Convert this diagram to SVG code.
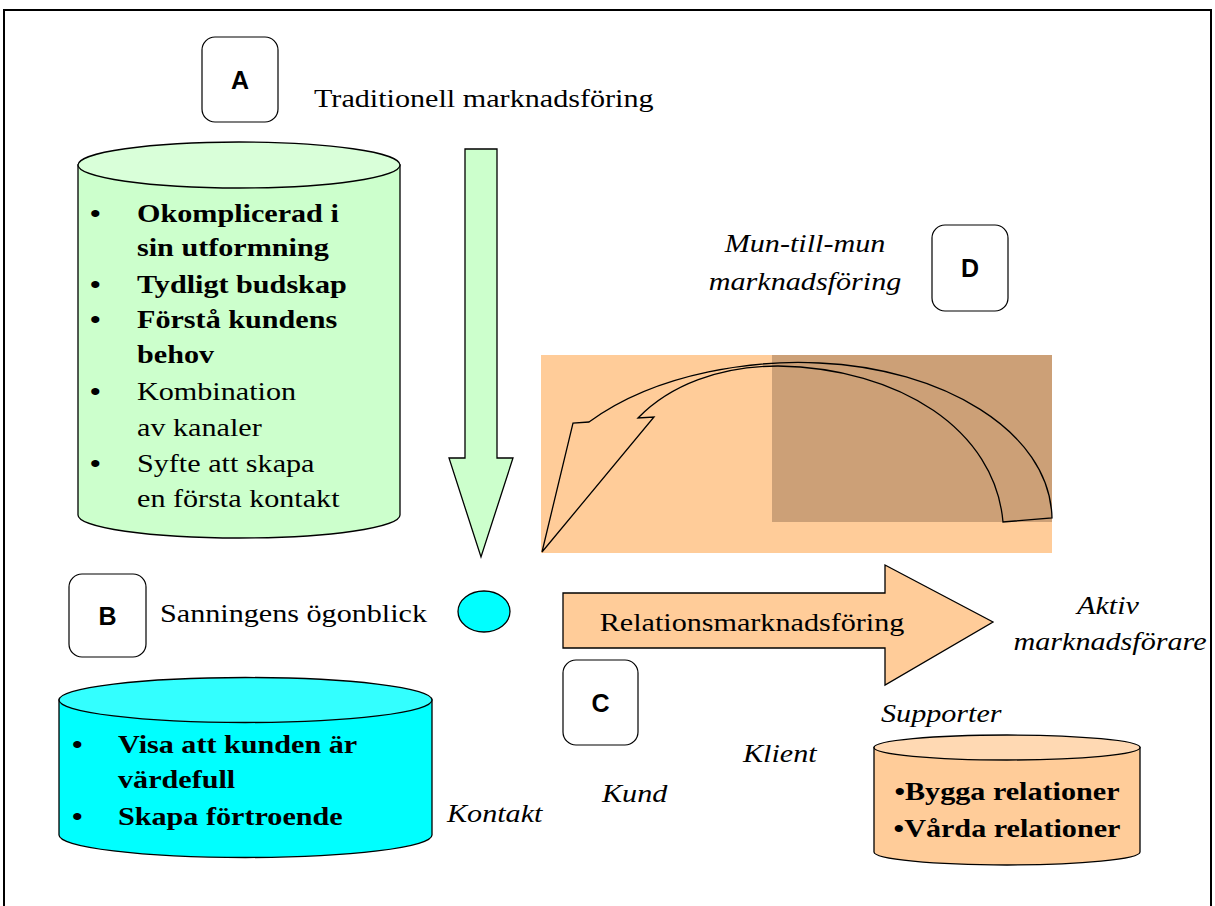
<svg xmlns="http://www.w3.org/2000/svg" width="1215" height="906" viewBox="0 0 1215 906">
<style>
.t{font-family:"Liberation Serif","Times New Roman",serif;font-size:26px;fill:#000}
.b{font-weight:bold}
.i{font-style:italic}
.m{text-anchor:middle}
.lab{font-family:"Liberation Sans",Arial,sans-serif;font-size:25px;font-weight:bold;fill:#000;text-anchor:middle}
.box{fill:#fff;stroke:#000;stroke-width:1.2}
.ln{stroke:#000;stroke-width:1.3}
</style>
<rect x="0" y="0" width="1215" height="906" fill="#fff"/>
<rect x="4" y="10" width="1207" height="910" fill="none" stroke="#000" stroke-width="2"/>

<g id="box-A"><rect class="box" x="202" y="37" width="76" height="85" rx="13"/><text class="lab" x="240" y="89">A</text></g>
<text class="t" transform="translate(314,107) scale(1.16,1)">Traditionell marknadsföring</text>

<g id="cyl-green">
<path class="ln" d="M78,165 L78,515 A161,23 0 0 0 400,515 L400,165 Z" fill="#CCFFCC"/>
<ellipse class="ln" cx="239" cy="165" rx="161" ry="23" fill="#D9FFD9"/>
<text class="t b" transform="translate(90,222) scale(1.16,1)">•</text><text class="t b" transform="translate(137,222) scale(1.16,1)">Okomplicerad i</text>
<text class="t b" transform="translate(137,256) scale(1.16,1)">sin utformning</text>
<text class="t b" transform="translate(90,293) scale(1.16,1)">•</text><text class="t b" transform="translate(137,293) scale(1.16,1)">Tydligt budskap</text>
<text class="t b" transform="translate(90,328) scale(1.16,1)">•</text><text class="t b" transform="translate(137,328) scale(1.16,1)">Förstå kundens</text>
<text class="t b" transform="translate(137,363) scale(1.16,1)">behov</text>
<text class="t b" transform="translate(90,400) scale(1.16,1)">•</text><text class="t" transform="translate(137,400) scale(1.16,1)">Kombination</text>
<text class="t" transform="translate(137,436) scale(1.16,1)">av kanaler</text>
<text class="t b" transform="translate(90,472) scale(1.16,1)">•</text><text class="t" transform="translate(137,472) scale(1.16,1)">Syfte att skapa</text>
<text class="t" transform="translate(137,507) scale(1.16,1)">en första kontakt</text>
</g>

<g id="arrow-down">
<path class="ln" d="M465,149 L497,149 L497,458 L513,458 L481,557 L449,458 L465,458 Z" fill="#CCFFCC"/>
</g>

<g id="box-D"><rect class="box" x="932" y="225" width="76" height="86" rx="13"/><text class="lab" x="970" y="277">D</text></g>
<text class="t i m" transform="translate(805,252) scale(1.16,1)">Mun-till-mun</text>
<text class="t i m" transform="translate(805,290) scale(1.16,1)">marknadsföring</text>

<g id="wom">
<rect x="541" y="355" width="511" height="198" fill="#FFCC99"/>
<rect x="772" y="355" width="280" height="167" fill="#CCA077"/>
</g>

<g id="connectors">
<path d="M542,552 L573,423 L589,422 C660,370 760,360 819,363 C940,368 1050,430 1052,518 L1003,522 C995,430 900,368 778,366 C720,366 670,385 638,418 L654,417 Z" fill="none" stroke="#000" stroke-width="1.3"/>
</g>

<g id="box-B"><rect class="box" x="69" y="574" width="77" height="83" rx="13"/><text class="lab" x="107.5" y="625">B</text></g>
<text class="t" transform="translate(160,622) scale(1.16,1)">Sanningens ögonblick</text>

<g id="moment"><ellipse class="ln" cx="484" cy="611.5" rx="26" ry="20.5" fill="#00FFFF"/></g>

<g id="arrow-rel">
<path class="ln" d="M563,593 L885,593 L885,565 L993,622 L885,685 L885,648 L563,648 Z" fill="#FFCC99"/>
<text class="t m" transform="translate(752,631) scale(1.16,1)">Relationsmarknadsföring</text>
</g>
<text class="t i m" transform="translate(1108,614) scale(1.16,1)">Aktiv</text>
<text class="t i m" transform="translate(1110,650) scale(1.16,1)">marknadsförare</text>

<g id="box-C"><rect class="box" x="563" y="660" width="75" height="85" rx="13"/><text class="lab" x="600.5" y="712">C</text></g>

<text class="t i" transform="translate(881,722) scale(1.16,1)">Supporter</text>
<text class="t i" transform="translate(743,762) scale(1.16,1)">Klient</text>
<text class="t i" transform="translate(602,802) scale(1.16,1)">Kund</text>
<text class="t i" transform="translate(447,822) scale(1.16,1)">Kontakt</text>

<g id="cyl-cyan">
<path class="ln" d="M59,700 L59,835 A186.5,22.5 0 0 0 432,835 L432,700 Z" fill="#00FFFF"/>
<ellipse class="ln" cx="245.5" cy="700" rx="186.5" ry="22.5" fill="#33FFFF"/>
<text class="t b" transform="translate(72,753) scale(1.16,1)">•</text><text class="t b" transform="translate(118,753) scale(1.16,1)">Visa att kunden är</text>
<text class="t b" transform="translate(118,788) scale(1.16,1)">värdefull</text>
<text class="t b" transform="translate(72,825) scale(1.16,1)">•</text><text class="t b" transform="translate(118,825) scale(1.16,1)">Skapa förtroende</text>
</g>

<g id="cyl-orange">
<path class="ln" d="M874,747.5 L874,852 A133,13 0 0 0 1140,852 L1140,747.5 Z" fill="#FFCC99"/>
<ellipse class="ln" cx="1007" cy="747.5" rx="133" ry="12.5" fill="#FFD9B3"/>
<text class="t b m" transform="translate(1007,800) scale(1.16,1)">•Bygga relationer</text>
<text class="t b m" transform="translate(1007,837) scale(1.16,1)">•Vårda relationer</text>
</g>
</svg>
